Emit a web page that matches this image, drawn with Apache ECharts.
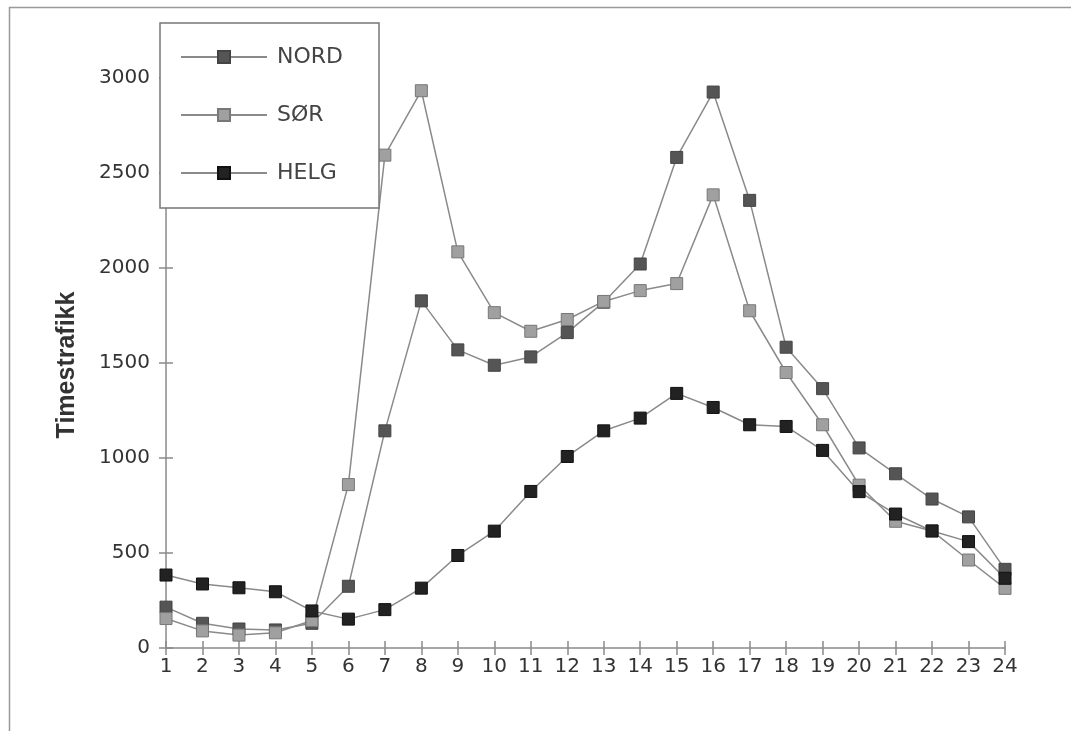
<!DOCTYPE html>
<html>
<head>
<meta charset="utf-8">
<script src="https://cdn.jsdelivr.net/npm/echarts@6/dist/echarts.min.js"></script>
<style>html,body{margin:0;padding:0;background:#fff;}#c{width:1071px;height:731px;}</style>
</head>
<body>
<div id="c"></div>
<script>
const hours = ['1','2','3','4','5','6','7','8','9','10','11','12','13','14','15','16','17','18','19','20','21','22','23','24'];
const nord = [215,130,100,95,130,325,1143,1827,1569,1488,1532,1660,1820,2021,2582,2926,2356,1583,1365,1053,917,784,690,414];
const sor  = [155,90,68,80,145,860,2594,2933,2085,1765,1667,1729,1824,1881,1918,2385,1775,1450,1175,857,667,616,463,314];
const helg = [384,337,317,296,195,152,202,315,487,615,824,1008,1143,1210,1340,1266,1175,1166,1040,823,705,616,560,367];
const yTitle = 'Timestrafikk';

const chart = echarts.init(document.getElementById('c'));
const lineColor = '#8a8a8a';
function mk(name, data, fill, border) {
  return {
    name: name, type: 'line', data: data,
    xAxisIndex: 0, yAxisIndex: 0,
    symbol: 'rect', symbolSize: 12,
    lineStyle: {color: lineColor, width: 1.5},
    itemStyle: {color: fill, borderColor: border, borderWidth: 1},
    emphasis: {disabled: true},
    animation: false
  };
}
const yFmt = function (v) { return String(v); };
chart.setOption({
  backgroundColor: '#fff',
  animation: false,
  grid: {left: 166, right: 66, top: 30.5, bottom: 83},
  graphic: [
    {type: 'rect', shape: {x: 9.5, y: 7.5, width: 1100, height: 760}, style: {fill: null, stroke: '#999', lineWidth: 1.5}, z: -1},
    {type: 'text', x: 67, y: 365, rotation: Math.PI / 2,
     style: {text: yTitle, font: 'bold 25px "Liberation Sans", Arial, sans-serif', fill: '#333', align: 'center', verticalAlign: 'middle'}}
  ],
  legend: {
    data: ['NORD', 'SØR', 'HELG'],
    orient: 'vertical', left: 160, top: 23,
    padding: [23, 36, 24, 20],
    itemWidth: 86, itemHeight: 15, itemGap: 36,
    backgroundColor: '#fff', borderColor: '#777', borderWidth: 1.5,
    textStyle: {fontFamily: '"DejaVu Sans", sans-serif', fontSize: 22, color: '#444', lineHeight: 22, padding: [0, 0, 0, 5]},
    z: 10
  },
  xAxis: [
    {type: 'category', data: hours, boundaryGap: false, position: 'bottom',
     axisLine: {lineStyle: {color: lineColor, width: 1.5}},
     axisTick: {show: true, inside: false, length: 7, lineStyle: {color: lineColor, width: 1.5}},
     axisLabel: {fontFamily: '"DejaVu Sans", sans-serif', fontSize: 20, color: '#333', margin: 9},
     splitLine: {show: false}},
    {type: 'category', data: hours, boundaryGap: false, position: 'bottom', offset: 0,
     axisLine: {show: false},
     axisTick: {show: true, inside: true, length: 7, lineStyle: {color: lineColor, width: 1.5}},
     axisLabel: {show: false}, splitLine: {show: false}}
  ],
  yAxis: [
    {type: 'value', min: 0, max: 3250, interval: 500, position: 'left',
     axisLine: {show: true, lineStyle: {color: lineColor, width: 1.5}},
     axisTick: {show: true, inside: false, length: 7, lineStyle: {color: lineColor, width: 1.5}},
     axisLabel: {fontFamily: '"DejaVu Sans", sans-serif', fontSize: 20, color: '#333', margin: 16, showMaxLabel: false, formatter: yFmt},
     splitLine: {show: false}},
    {type: 'value', min: 0, max: 3250, interval: 500, position: 'left', offset: 0,
     axisLine: {show: false},
     axisTick: {show: true, inside: true, length: 7, lineStyle: {color: lineColor, width: 1.5}},
     axisLabel: {show: false}, splitLine: {show: false}}
  ],
  series: [
    mk('NORD', nord, '#555', '#444'),
    mk('SØR', sor, '#a0a0a0', '#777'),
    mk('HELG', helg, '#222', '#111')
  ]
});
</script>
</body>
</html>
